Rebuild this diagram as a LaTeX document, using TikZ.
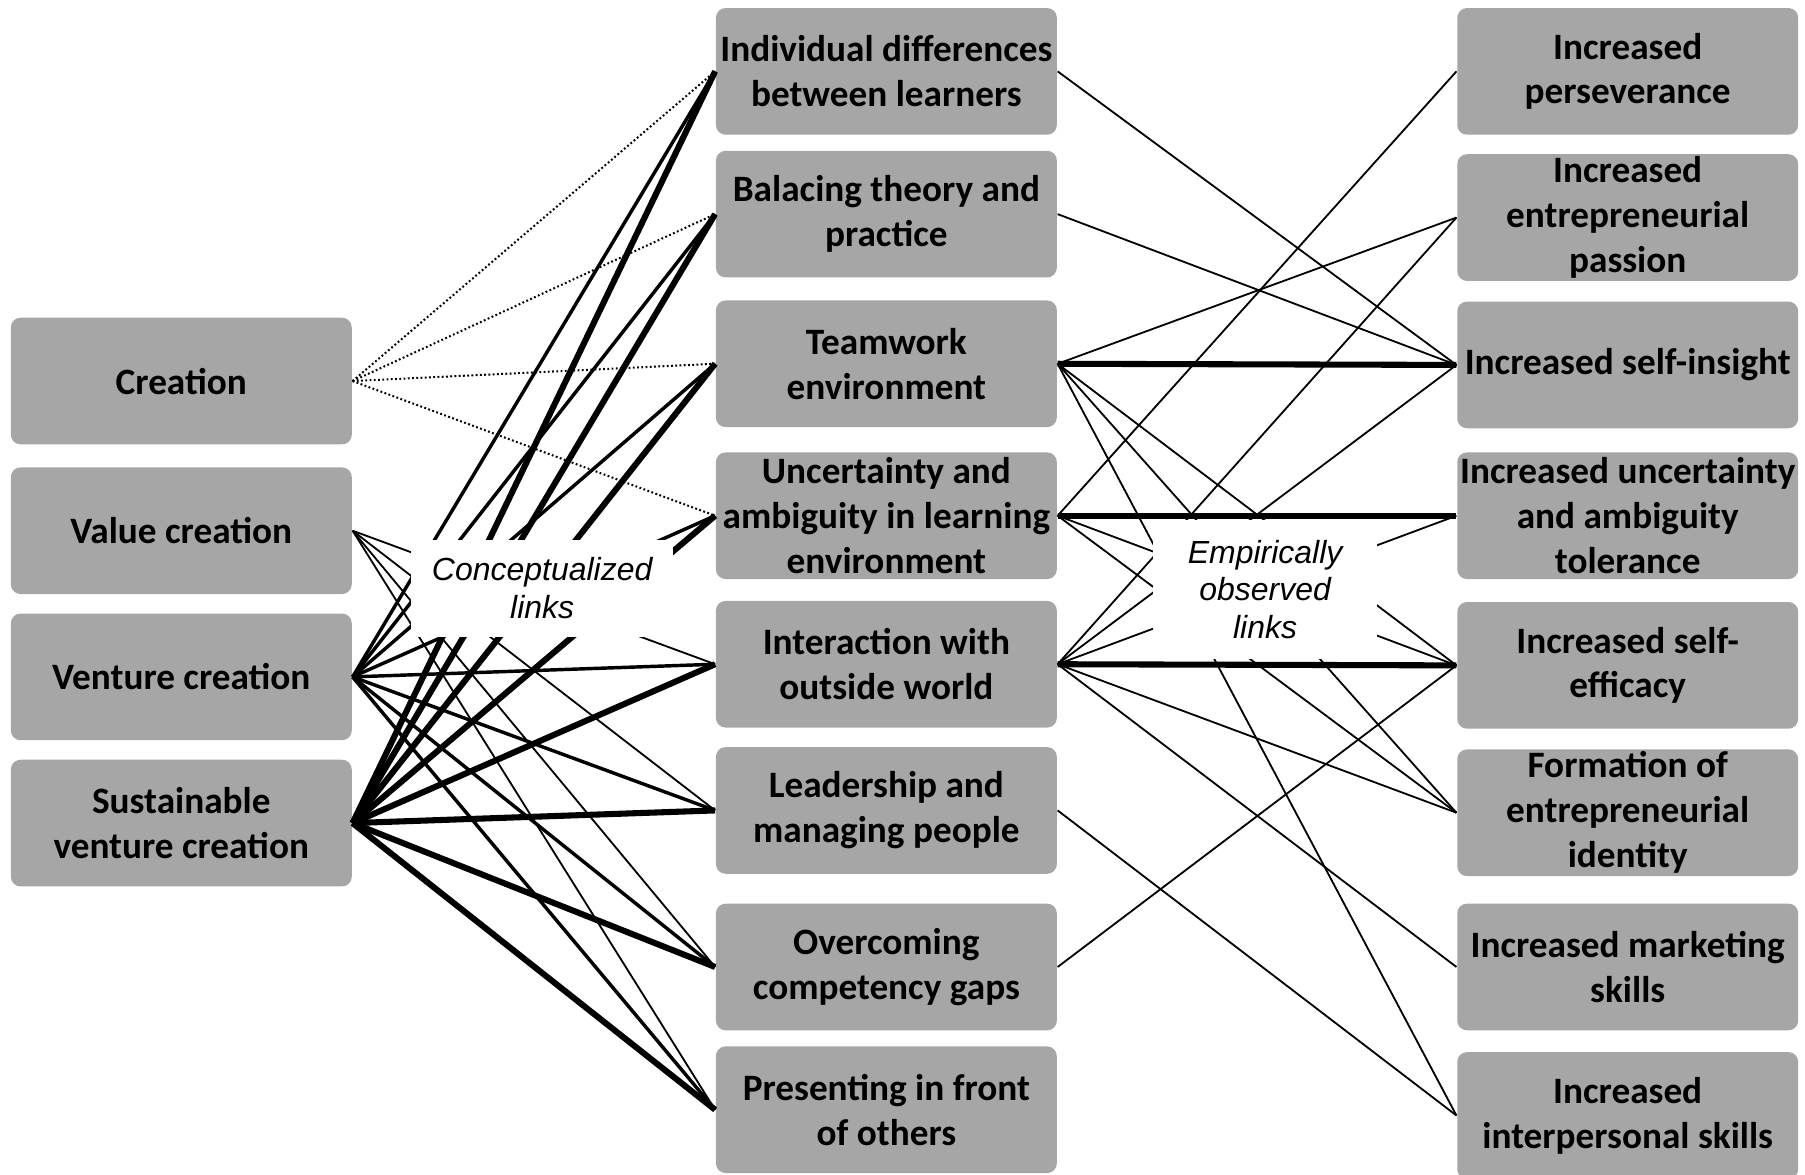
\documentclass[tikz,border=0pt]{standalone}
\usepackage{fontspec}
\setmainfont{Carlito}
\newfontfamily\linkfont{Liberation Sans}
\usepackage{tikz}
\definecolor{boxgray}{RGB}{166,166,166}

\begin{document}
\begin{tikzpicture}[
			x=0.01cm,
			y=-0.01cm,
			line cap=butt,
			box/.style={fill=boxgray, rounded corners=2.4pt, minimum width=2.96cm,
				minimum height=1.1cm, inner sep=0pt, align=center,
				font=\fontsize{9.2}{11.1}\selectfont\bfseries},
			linklabel/.style={fill=white, inner sep=0pt, align=center,
				font=\linkfont\fontsize{7.9}{9.3}\selectfont\itshape},
			dotlink/.style={line width=0.5pt, dash pattern=on 0.45pt off 0.6pt},
			thinlink/.style={line width=0.45pt},
			midlink/.style={line width=0.85pt},
			boldlink/.style={line width=1.5pt}
			]
			
			\useasboundingbox (0,0) rectangle (1568,1020);
			
			% Venture creation concepts
			\node[box] (creation) at (157.5,331) {Creation};
			\node[box] (value)    at (157.5,461) {Value creation};
			\node[box] (venture)  at (157.5,588) {Venture creation};
			\node[box] (sustain)  at (157.5,715) {Sustainable\\venture creation};
			
			% Learning environment features
			\node[box] (indiv)   at (770,62)  {Individual differences\\between learners};
			\node[box] (theory)  at (770,186) {Balacing theory and\\practice};
			\node[box] (team)    at (770,316) {Teamwork\\environment};
			\node[box] (uncert)  at (770,448) {Uncertainty and\\ambiguity in learning\\environment};
			\node[box] (outside) at (770,577) {Interaction with\\outside world};
			\node[box] (lead)    at (770,704) {Leadership and\\managing people};
			\node[box] (gaps)    at (770,840) {Overcoming\\competency gaps};
			\node[box] (present) at (770,964) {Presenting in front\\of others};
			
			% Outcomes
			\node[box] (persev)    at (1414,62)  {Increased\\perseverance};
			\node[box] (passion)   at (1414,189) {Increased\\entrepreneurial\\passion};
			\node[box] (insight)   at (1414,317) {Increased self-insight};
			\node[box] (tolerance) at (1414,448) {Increased uncertainty\\and ambiguity\\tolerance};
			\node[box] (efficacy)  at (1414,578) {Increased self-\\efficacy};
			\node[box] (identity)  at (1414,706) {Formation of\\entrepreneurial\\identity};
			\node[box] (marketing) at (1414,840) {Increased marketing\\skills};
			\node[box] (interp)    at (1414,969) {Increased\\interpersonal skills};
			
			% Conceptualized links
			\foreach \t in {indiv,theory,team,uncert}
				\draw[dotlink] (creation.east) -- (\t.west);
			\foreach \t in {outside,lead,gaps,present}
				\draw[thinlink] (value.east) -- (\t.west);
			\foreach \t in {indiv,theory,team,uncert,outside,lead,gaps,present}
				\draw[midlink] (venture.east) -- (\t.west);
			\foreach \t in {indiv,theory,team,uncert,outside,lead,gaps,present}
				\draw[boldlink] (sustain.east) -- (\t.west);
			
			% Empirically observed links
			\draw[thinlink] (indiv.east) -- (insight.west);
			\draw[thinlink] (theory.east) -- (insight.west);
			\foreach \t in {passion,efficacy,identity,interp}
				\draw[thinlink] (team.east) -- (\t.west);
			\draw[boldlink] (team.east) -- (insight.west);
			\foreach \t in {persev,efficacy,identity}
				\draw[thinlink] (uncert.east) -- (\t.west);
			\draw[boldlink] (uncert.east) -- (tolerance.west);
			\foreach \t in {passion,insight,tolerance,identity,marketing}
				\draw[thinlink] (outside.east) -- (\t.west);
			\draw[boldlink] (outside.east) -- (efficacy.west);
			\draw[thinlink] (lead.east) -- (interp.west);
			\draw[thinlink] (gaps.east) -- (efficacy.west);
			
			% Link labels
			\node[linklabel, minimum width=2.28cm, minimum height=0.84cm] (concept)
				at (471,511) {Conceptualized\\links};
			\node[linklabel, minimum width=1.94cm, minimum height=1.2cm] (empiric)
				at (1099,512) {Empirically\\observed\\links};
			
		\end{tikzpicture}
\end{document}
